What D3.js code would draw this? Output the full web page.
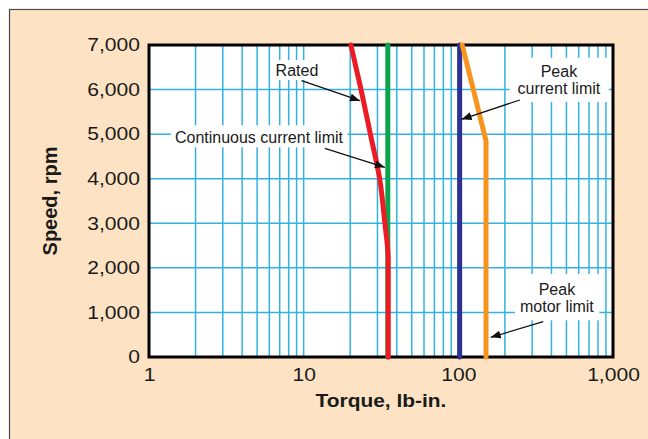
<!DOCTYPE html>
<html>
<head>
<meta charset="utf-8">
<script src="https://cdn.jsdelivr.net/npm/d3@7"></script>
<style>
  body { margin: 0; background: #ffffff; }
  text { font-family: "Liberation Sans", Arial, sans-serif; fill: #1a1a1a; }
</style>
</head>
<body>
<svg id="drawing_region"></svg>
<script>
// tick values
const torqueTicks = [1, 10, 100, 1000];
const speedTicks = [0, 1000, 2000, 3000, 4000, 5000, 6000, 7000];

// curves (speed in rpm, torque in lb-in.)
const ratedSpeed  = [7000, 6000, 5000, 4000, 3000, 2200, 0];
const ratedTorque = [20.2, 23.5, 27, 31, 33.5, 35.2, 35.2];
const contSpeed  = [7000, 0];
const contTorque = [35, 35];
const peakCurrentSpeed  = [7000, 0];
const peakCurrentTorque = [102, 102];
const peakMotorSpeed  = [7000, 4850, 0];
const peakMotorTorque = [106, 151, 151];

class LimitChart {

    constructor( config ) {
        this.config = config;
        this.init();
    }

    init() {
        let self = this;

        self.svg = d3.select( self.config.parent )
            .attr('width', self.config.width)
            .attr('height', self.config.height);

        // peach panel
        self.svg.append('rect')
            .attr('x', 9.5).attr('y', 9.5)
            .attr('width', 700).attr('height', 500)
            .attr('fill', '#fde3c3')
            .attr('stroke', '#4a4a4a')
            .attr('stroke-width', 1.2);

        self.chart = self.svg.append('g')
            .attr('transform', `translate(${self.config.margin.left}, ${self.config.margin.top})`);

        self.inner_width = self.config.width - self.config.margin.left - self.config.margin.right;
        self.inner_height = self.config.height - self.config.margin.top - self.config.margin.bottom;

        self.xscale = d3.scaleLog()
            .domain([1, 1000])
            .range([0, self.inner_width]);

        self.yscale = d3.scaleLinear()
            .domain([0, 7000])
            .range([self.inner_height, 0]);

        self.xaxis = d3.axisBottom( self.xscale )
            .tickValues( torqueTicks )
            .tickFormat( d3.format(',') )
            .tickSize(0)
            .tickPadding(11);

        self.yaxis = d3.axisLeft( self.yscale )
            .tickValues( speedTicks )
            .tickFormat( d3.format(',') )
            .tickSize(0)
            .tickPadding(9);
    }

    render() {
        let self = this;
        const W = self.inner_width, H = self.inner_height;

        self.chart.append('rect')
            .attr('width', W).attr('height', H)
            .attr('fill', '#ffffff');

        // grid
        const minor = [];
        [1, 10, 100].forEach( dec => { for (let k = 2; k <= 9; k++) minor.push(dec * k); });
        minor.push(10, 100);
        self.chart.append('g').selectAll('line').data(minor).join('line')
            .attr('x1', d => self.xscale(d)).attr('x2', d => self.xscale(d))
            .attr('y1', 0).attr('y2', H)
            .attr('stroke', '#33b2e2').attr('stroke-width', 1.5);
        self.chart.append('g').selectAll('line').data(speedTicks.slice(1, -1)).join('line')
            .attr('y1', d => self.yscale(d)).attr('y2', d => self.yscale(d))
            .attr('x1', 0).attr('x2', W)
            .attr('stroke', '#33b2e2').attr('stroke-width', 1.5);

        // annotations (positions in data units)
        const notes = [
            { lines: ['Rated'], at: [9.05, 6304], pad: [4, 2, 1],
              from: [9.7, 6199], to: [23.1, 5750] },
            { lines: ['Continuous current limit'], at: [5.14, 4795], pad: [4, 4, 1],
              from: [13.7, 4682], to: [33.5, 4256] },
            { lines: ['Peak', 'current limit'], at: [447, 6289], pad: [8, 5, 5],
              from: [250, 5766], to: [105, 5333] },
            { lines: ['Peak', 'motor limit'], at: [434, 1391], pad: [5, 7, 5],
              from: [354, 792], to: [162, 442] }
        ];

        self.svg.append('defs').append('marker')
            .attr('id', 'arrow')
            .attr('viewBox', '0 0 10 8')
            .attr('refX', 10).attr('refY', 4)
            .attr('markerWidth', 10).attr('markerHeight', 8)
            .attr('markerUnits', 'userSpaceOnUse')
            .attr('orient', 'auto')
            .append('path').attr('d', 'M0,0 L10,4 L0,8 Z').attr('fill', '#111');

        notes.forEach( n => {
            const g = self.chart.append('g');
            const box = g.append('rect').attr('fill', '#ffffff');
            const t = g.append('text')
                .attr('x', self.xscale(n.at[0]))
                .attr('y', self.yscale(n.at[1]))
                .attr('text-anchor', 'middle')
                .attr('font-size', 16);
            n.lines.forEach( (s, i) => {
                t.append('tspan')
                    .attr('x', self.xscale(n.at[0]))
                    .attr('dy', i == 0 ? 0 : 17.3)
                    .text(s);
            });
            const b = t.node().getBBox();
            box.attr('x', b.x - n.pad[0]).attr('y', b.y - n.pad[1])
               .attr('width', b.width + 2 * n.pad[0])
               .attr('height', b.height + n.pad[1] + n.pad[2]);
        });

        // frame
        self.chart.append('rect')
            .attr('width', W).attr('height', H)
            .attr('fill', 'none')
            .attr('stroke', '#000').attr('stroke-width', 3);

        // curves
        const series = [
            { t: contTorque, s: contSpeed, c: '#0ba34e', curve: d3.curveLinear },
            { t: ratedTorque, s: ratedSpeed, c: '#ec1c24', curve: d3.curveMonotoneY },
            { t: peakCurrentTorque, s: peakCurrentSpeed, c: '#2e3192', curve: d3.curveLinear },
            { t: peakMotorTorque, s: peakMotorSpeed, c: '#f7941d', curve: d3.curveLinear }
        ];
        series.forEach( d => {
            const line = d3.line()
                .x(p => self.xscale(p[0]))
                .y(p => self.yscale(p[1]))
                .curve(d.curve);
            self.chart.append('path')
                .datum(d.t.map((v, i) => [v, d.s[i]]))
                .attr('d', line)
                .attr('fill', 'none')
                .attr('stroke', d.c)
                .attr('stroke-width', 5)
                .attr('stroke-linecap', 'round')
                .attr('stroke-linejoin', 'round');
        });

        // arrows
        notes.forEach( n => {
            self.chart.append('line')
                .attr('x1', self.xscale(n.from[0])).attr('y1', self.yscale(n.from[1]))
                .attr('x2', self.xscale(n.to[0])).attr('y2', self.yscale(n.to[1]))
                .attr('stroke', '#111').attr('stroke-width', 1.3)
                .attr('marker-end', 'url(#arrow)');
        });

        // axes
        const xg = self.chart.append('g')
            .attr('transform', `translate(0, ${H})`)
            .call( self.xaxis );
        const yg = self.chart.append('g')
            .call( self.yaxis );
        [xg, yg].forEach( g => {
            g.select('.domain').remove();
            g.selectAll('text')
                .attr('font-size', 18)
                .attr('font-family', '"Liberation Sans", Arial, sans-serif')
                .attr('fill', '#1a1a1a')
                .attr('lengthAdjust', 'spacingAndGlyphs')
                .attr('textLength', function() { return this.getComputedTextLength() * 1.17; });
        });

        // axis titles
        const xt = self.chart.append('text')
            .attr('x', W / 2)
            .attr('y', H + 50)
            .attr('text-anchor', 'middle')
            .attr('font-size', 19)
            .attr('font-weight', 'bold')
            .text('Torque, lb-in.');
        xt.attr('lengthAdjust', 'spacingAndGlyphs')
          .attr('textLength', xt.node().getComputedTextLength() * 1.1);

        self.chart.append('text')
            .attr('transform', `translate(${57 - self.config.margin.left}, ${H / 2}) rotate(-90)`)
            .attr('text-anchor', 'middle')
            .attr('font-size', 20)
            .attr('font-weight', 'bold')
            .text('Speed, rpm');
    }
}

const chart = new LimitChart({
    parent: '#drawing_region',
    width: 648,
    height: 439,
    margin: { top: 45, right: 35, bottom: 82, left: 149 }
});
chart.render();
</script>
</body>
</html>
